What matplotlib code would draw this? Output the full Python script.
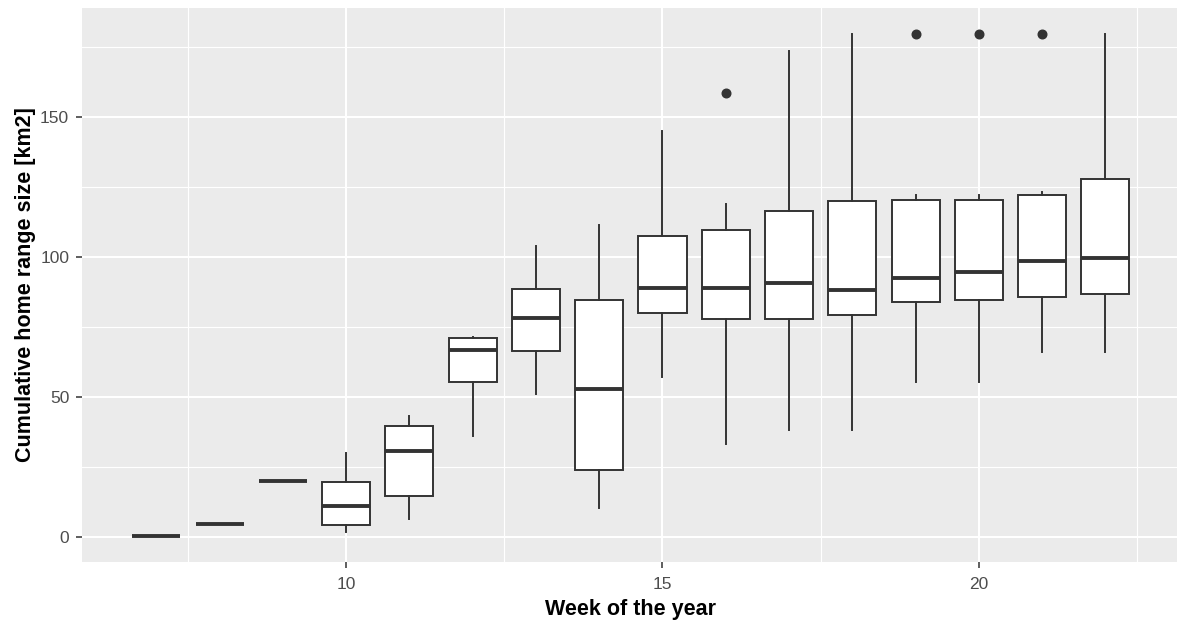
import matplotlib
matplotlib.use("Agg")
import matplotlib.pyplot as plt
from matplotlib.ticker import MultipleLocator

plt.rcParams['font.family'] = ['Liberation Sans', 'DejaVu Sans']

weeks = [7, 8, 9, 10, 11, 12, 13, 14, 15, 16, 17, 18, 19, 20, 21, 22]
whislo = [0.2, 4.8, 20.0, 1.9, 6.4, 36.1, 51.0, 10.5, 57.3, 33.1, 38.2, 38.2, 55.4, 55.4, 66.2, 66.2]
q1 = [0.2, 4.8, 20.0, 4.4, 14.6, 55.5, 66.3, 23.8, 80.0, 77.7, 77.7, 79.4, 84.0, 84.5, 85.7, 86.9]
med = [0.2, 4.8, 20.0, 11.0, 30.8, 66.7, 78.1, 53.0, 88.9, 88.9, 90.6, 88.2, 92.4, 94.5, 98.6, 99.8]
q3 = [0.2, 4.8, 20.0, 19.8, 39.6, 71.0, 88.5, 84.6, 107.4, 109.6, 116.4, 119.9, 120.5, 120.5, 122.1, 127.9]
whishi = [0.2, 4.8, 20.0, 30.1, 43.2, 71.5, 104.0, 111.5, 145.0, 118.9, 173.6, 179.7, 122.3, 122.3, 123.2, 179.7]
outliers = [[], [], [], [], [], [], [], [], [], [158.5], [], [], [179.5], [179.5], [179.5], []]

x_ticks = [10, 15, 20]
y_ticks = [0, 50, 100, 150]
x_label = "Week of the year"
y_label = "Cumulative home range size [km2]"

W, H, DPI = 1177, 628, 100
fig = plt.figure(figsize=(W / DPI, H / DPI), dpi=DPI)
fig.patch.set_facecolor('white')
left_px, right_px, top_px, bottom_px = 81.7, 1180.0, 8.3, 561.7
ax = fig.add_axes([left_px / W, 1 - bottom_px / H, (right_px - left_px) / W, (bottom_px - top_px) / H])
ax.set_facecolor('#EBEBEB')

stats = []
for i in range(len(weeks)):
    stats.append(dict(med=med[i], q1=q1[i], q3=q3[i], whislo=whislo[i], whishi=whishi[i],
                      fliers=outliers[i]))

dark = '#333333'
ax.bxp(stats, positions=weeks, widths=0.76, showcaps=False, patch_artist=True,
       boxprops=dict(facecolor='white', edgecolor=dark, linewidth=1.4),
       whiskerprops=dict(color=dark, linewidth=1.4),
       medianprops=dict(color=dark, linewidth=2.8, solid_capstyle='butt'),
       flierprops=dict(marker='o', markerfacecolor=dark, markeredgecolor=dark, markersize=6.2),
       zorder=3)

ax.set_xlim(5.82, 23.18)
ax.set_ylim(-8.8, 188.8)
ax.xaxis.set_minor_locator(MultipleLocator(2.5))
ax.yaxis.set_minor_locator(MultipleLocator(25))
ax.set_xticks(x_ticks)
ax.set_xticklabels([str(t) for t in x_ticks])
ax.set_yticks(y_ticks)
ax.set_yticklabels([str(t) for t in y_ticks])

ax.grid(which='major', color='white', linewidth=1.5, zorder=0)
ax.grid(which='minor', color='white', linewidth=0.8, zorder=0)
ax.set_axisbelow(True)
for s in ax.spines.values():
    s.set_visible(False)

ax.tick_params(which='major', length=4, width=1.1, color=dark, labelsize=12.5,
               labelcolor='#4D4D4D')
ax.tick_params(axis='x', which='major', pad=7)
ax.tick_params(axis='y', which='major', pad=5)
ax.tick_params(which='minor', length=0)

ax.set_xlabel(x_label, fontsize=15.5, fontweight='bold', color='black', labelpad=5)
ax.set_ylabel(y_label, fontsize=15.5, fontweight='bold', color='black', labelpad=3)

fig.savefig('out.png', dpi=DPI)
